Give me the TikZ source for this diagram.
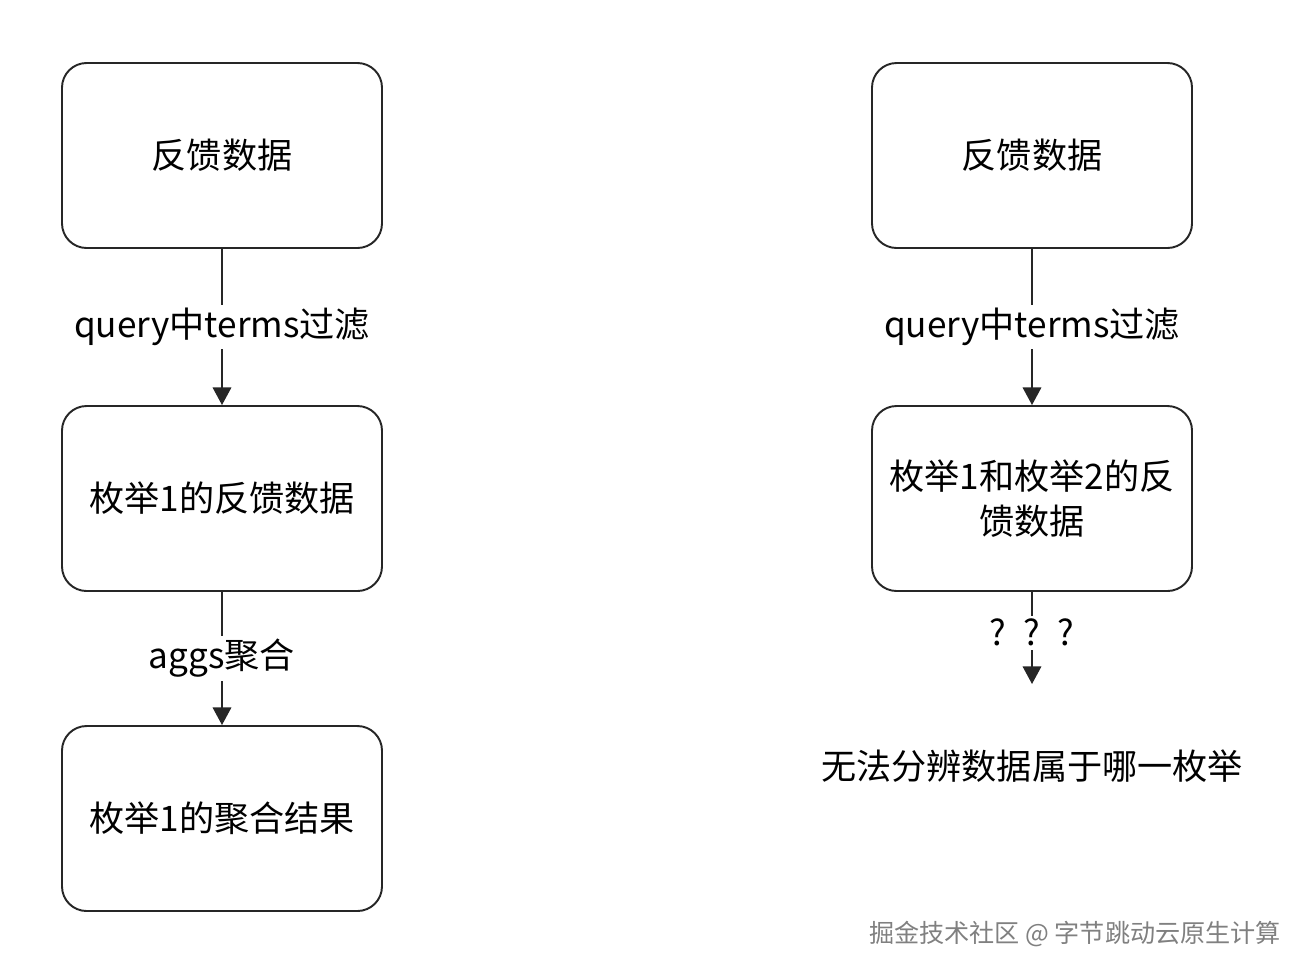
\documentclass[tikz,border=0pt]{standalone}
\usepackage{fontspec}
\setmainfont{Noto Sans CJK SC}
\usetikzlibrary{arrows.meta,positioning}
\tikzset{
  stepbox/.style={draw=black!85,line width=1.1pt,rounded corners=14pt,
    minimum width=6.4cm,minimum height=3.7cm,align=center,font=\fontsize{20}{26}\selectfont},
  lbl/.style={fill=white,inner sep=2pt,font=\fontsize{20}{24}\selectfont},
  flow/.style={->,line width=1.1pt,draw=black!85}
}
\begin{document}
\begin{tikzpicture}[>={Triangle[length=10pt,width=10.5pt]}]
  \useasboundingbox (0,0) rectangle (26.16,-19.5);
  % left column
  \node[stepbox] (fbA) at (4.44,-3.11) {反馈数据};
  \node[stepbox] (enumA) at (4.44,-9.97) {枚举1的反馈数据};
  \node[stepbox] (aggA) at (4.44,-16.37) {枚举1的聚合结果};
  \draw[flow] (fbA) -- node[lbl] {query中terms过滤} (enumA);
  \draw[flow] (enumA) -- node[lbl] {aggs聚合} (aggA);
  % right column
  \node[stepbox] (fbB) at (20.64,-3.11) {反馈数据};
  \node[stepbox] (enumB) at (20.64,-9.97) {枚举1和枚举2的反\\馈数据};
  \coordinate (endB) at (20.64,-13.68);
  \draw[flow] (fbB) -- node[lbl] {query中terms过滤} (enumB);
  \draw[flow] (enumB) -- node[lbl,yshift=3pt] {?\hspace{0.5em}?\hspace{0.5em}?} (endB);
  \node[font=\fontsize{20}{24}\selectfont] (note) at (20.64,-15.32) {无法分辨数据属于哪一枚举};
  % watermark
  \node[text=black!50,font=\fontsize{14.3}{17}\selectfont] (mark) at (21.5,-18.68) {掘金技术社区 @ 字节跳动云原生计算};
\end{tikzpicture}
\end{document}
